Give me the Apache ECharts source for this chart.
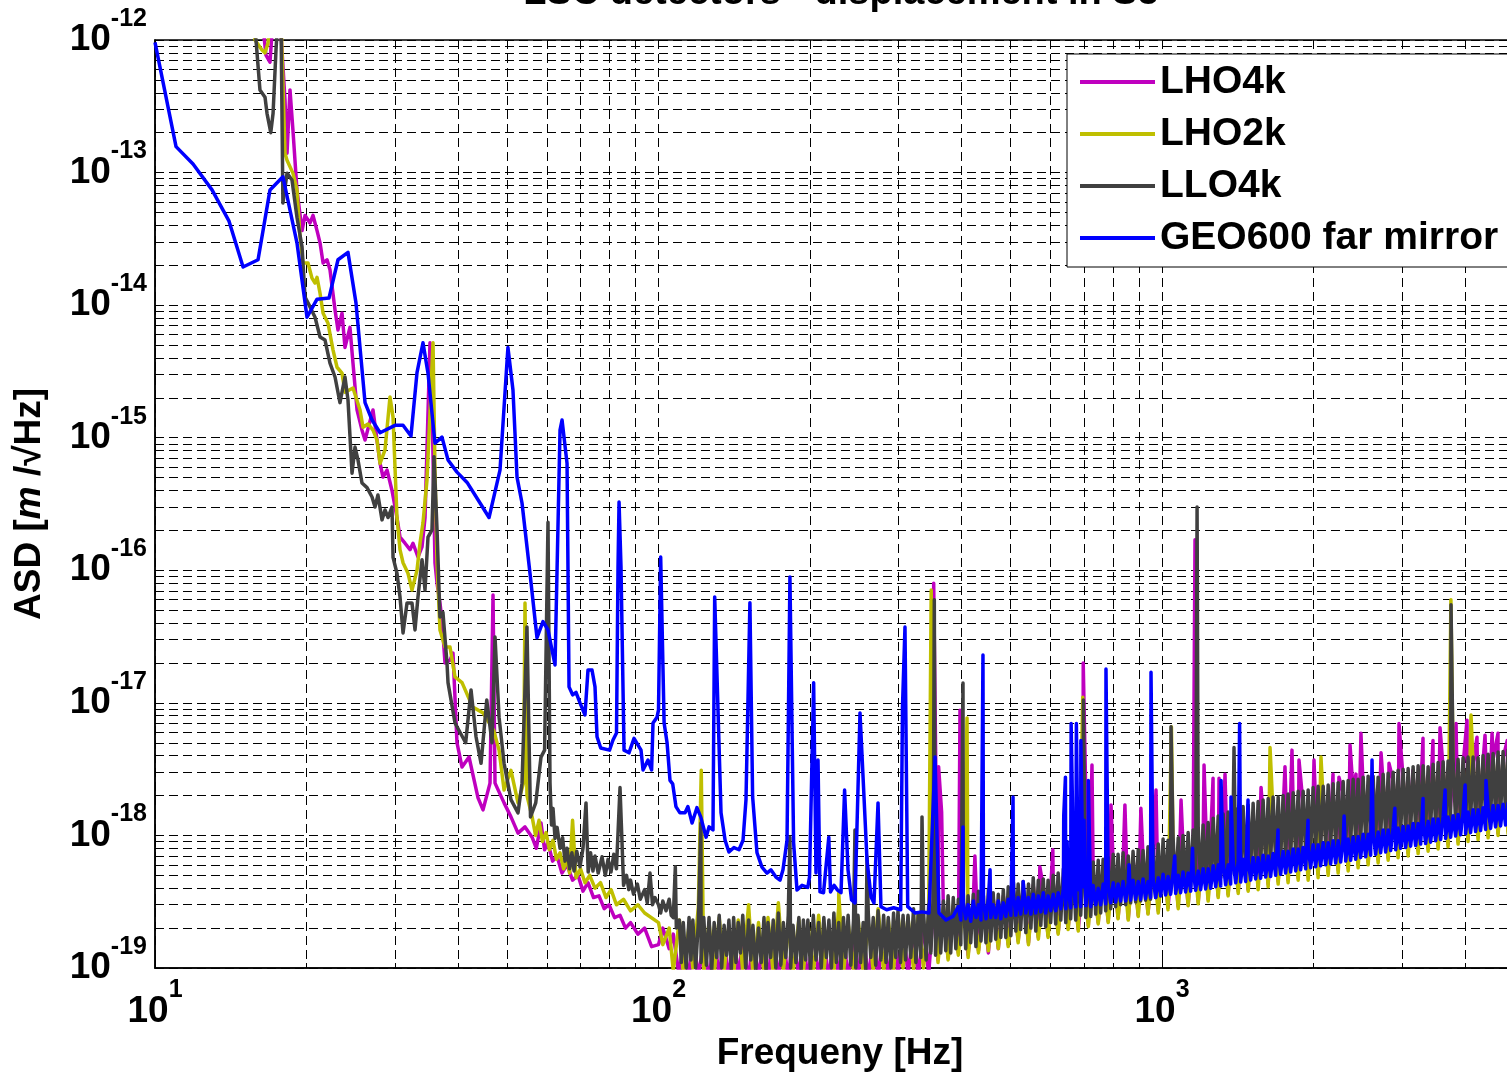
<!DOCTYPE html>
<html>
<head>
<meta charset="utf-8">
<title>LSC detectors - displacement in S5</title>
<script src="https://cdn.jsdelivr.net/npm/echarts/dist/echarts.min.js"></script>
<style>
  html, body { margin: 0; padding: 0; background: #fff; }
  #chart { width: 1507px; height: 1075px; }
</style>
</head>
<body>
<div id="chart"></div>
<script>
// series names, same order as the legend
const seriesNames = ['LHO4k', 'LHO2k', 'LLO4k', 'GEO600 far mirror'];

// frequency grid of the noise floor [Hz]; LHO traces use every second entry
const floorHz = [
  100, 101, 102, 103.5, 105, 106, 107, 108.5, 110, 111, 112, 113.5, 115, 116, 117, 118.5, 120, 121.5, 123, 124.5,
  126, 127.5, 129, 130.5, 132, 133.5, 135, 136.5, 138, 139.5, 141, 142.5, 144, 145.5, 147, 149, 151, 152.5, 154, 156,
  158, 160, 162, 163.5, 165, 167, 169, 171, 173, 175, 177, 179, 181, 183, 185, 187.5, 190, 192, 194, 196,
  198, 200.5, 203, 205.5, 208, 210.5, 213, 215.5, 218, 220.5, 223, 225.5, 228, 230.5, 233, 235.5, 238, 241, 244, 246.5,
  249, 252, 255, 258, 261, 264, 267, 270, 273, 276.5, 280, 283, 286, 289.5, 293, 296, 299, 302.5, 306, 309.5,
  313, 317, 321, 324.5, 328, 332, 336, 340, 344, 347.5, 351, 355, 359, 363.5, 368, 372, 376, 380.5, 385, 389.5,
  394, 398.5, 403, 407.5, 412, 417, 422, 427, 432, 437, 442, 447, 452, 457, 462, 467.5, 473, 478.5, 484, 489.5,
  495, 501, 507, 512.5, 518, 524, 530, 536.5, 543, 549, 555, 561.5, 568, 574.5, 581, 587.5, 594, 601, 608, 615,
  622, 629.5, 637, 644, 651, 658.5, 666, 674, 682, 689.5, 697, 705.5, 714, 722, 730, 738.5, 747, 755.5, 764, 773,
  782, 791, 800, 809, 818, 827.5, 837, 847, 857, 866.5, 876, 886.5, 897, 907, 917, 927.5, 938, 949, 960, 971.5,
  983, 994, 1005, 1016.5, 1028, 1040, 1052, 1064.5, 1077, 1089, 1101, 1114, 1127, 1140, 1153, 1166.5, 1180, 1193.5, 1207, 1221,
  1235, 1249.5, 1264, 1278.5, 1293, 1308, 1323, 1338, 1353, 1369, 1385, 1401, 1417, 1433, 1449, 1466, 1483, 1500, 1517, 1534.5,
  1552, 1570, 1588, 1606.5, 1625, 1643.5, 1662, 1681.5, 1701, 1720.5, 1740, 1760, 1780, 1801, 1822, 1843, 1864, 1885.5, 1907, 1929,
  1951, 1973.5, 1996, 2019, 2042, 2066, 2090, 2114, 2138, 2162.5, 2187, 2212.5, 2238, 2264, 2290, 2316.5, 2343, 2370, 2397, 2424.5,
  2452, 2480.5, 2509, 2538, 2567, 2596.5, 2626, 2656.5, 2687, 2718, 2749, 2781, 2813, 2845.5, 2878, 2911, 2944, 2978, 3012, 3047,
  3082, 3117.5, 3153, 3189.5, 3226, 3263.5, 3301, 3339, 3377, 3416, 3455, 3495, 3535, 3576, 3617, 3658.5, 3700, 3743, 3786, 3829.5,
  3873, 3918, 3963, 4008.5, 4054, 4101, 4148, 4196, 4244, 4293, 4342, 4392.5, 4443, 4494, 4545, 4597.5, 4650, 4704, 4758, 4813,
  4868, 4924, 4980
];
// noise floor values are given in units of 1e-19 m/sqrt(Hz)
const FLOOR_UNIT = 1e-19;

// ---- LHO4k (magenta) ----
const lho4kLowHz = [
  16.31, 16.61, 16.92, 17.16, 17.71, 18.12, 18.29, 18.54, 18.79, 19.14,
  19.59, 19.86, 20.32, 20.6, 20.98, 21.27, 21.57, 21.96, 22.26, 22.78,
  23.09, 23.52, 23.84, 24.39, 24.73, 25.19, 25.77, 26.13, 27.1, 27.6,
  27.99, 28.37, 28.9, 29.56, 30.24, 30.66, 31.37, 32.1, 32.54, 33.29,
  33.91, 34.38, 34.85, 35.17, 35.49, 35.98, 36.32, 36.81, 37.15, 37.67,
  38.54, 39.07, 39.79, 40.72, 42.05, 43.81, 44.82, 46.28, 46.92, 47.35,
  49.35, 50.93, 52.6, 54.31,
  56.1, 57.2, 58.43, 59.4, 60.33, 61.6, 62.87, 64.3, 65.82, 67.5,
  69.2, 70.8, 72.44, 74.3, 76.18, 78.0, 79.75, 81.8, 83.86, 86.0,
  88.0, 91.0, 93.85, 96.9
];
const lho4kLowAsd = [
  1.5e-12, 7.7e-13, 6.8e-13, 1.5e-12, 1.5e-12, 3.53e-13, 1.4e-13, 4.2e-13, 2.1e-13, 7.4e-14,
  3.65e-14, 4.75e-14, 4.17e-14, 4.75e-14, 3.65e-14, 2.95e-14, 2.08e-14, 2.2e-14, 1.85e-14, 9.2e-15,
  6.5e-15, 8.7e-15, 4.8e-15, 6.8e-15, 3.65e-15, 1.62e-15, 1.14e-15, 9.6e-16, 1.62e-15, 9.6e-16,
  6.4e-16, 5.05e-16, 5.7e-16, 4.0e-16, 2.5e-16, 1.78e-16, 1.6e-16, 1.43e-16, 1.6e-16, 1.26e-16,
  1.5e-16, 2.5e-16, 1.54e-15, 5.2e-15, 1.93e-15, 1.14e-16, 8.0e-17, 5.67e-17, 4.2e-17, 2.0e-17,
  2.1e-17, 2.37e-17, 5.0e-18, 3.28e-18, 3.9e-18, 1.92e-18, 1.56e-18, 2.48e-18, 6.5e-17, 2.48e-18,
  1.76e-18, 1.38e-18, 1.04e-18, 1.16e-18,
  9.7e-19, 8.0e-19, 1.24e-18, 7.8e-19, 8.8e-19, 6.4e-19, 7.0e-19, 5.2e-19, 6.0e-19, 4.6e-19,
  5.0e-19, 3.8e-19, 4.4e-19, 3.4e-19, 3.5e-19, 2.8e-19, 3.0e-19, 2.4e-19, 2.5e-19, 2.0e-19,
  2.2e-19, 1.8e-19, 2.0e-19, 1.45e-19
];
const lho4kFloor = [
  1.5, 2.0, 1.4, 1.8, 0.85, 1.7, 0.8, 1.9, 0.85, 1.6,
  0.8, 1.8, 0.85, 1.7, 0.8, 1.9, 0.85, 1.6, 0.8, 1.8,
  0.85, 1.7, 0.8, 1.9, 0.82, 1.75, 0.8, 1.85, 0.85, 1.7,
  0.8, 1.9, 0.85, 1.7, 0.8, 1.85, 0.82, 1.9, 0.8, 1.75,
  0.85, 1.9, 0.8, 1.8, 0.85, 2.0, 0.82, 1.85, 0.88, 2.0,
  0.9, 1.9, 0.85, 2.1, 0.9, 2.5, 1.15, 2.7, 1.2, 2.9,
  1.3, 3.1, 1.25, 3.3, 1.35, 3.0, 1.3, 3.4, 1.4, 3.5,
  1.5, 3.8, 1.6, 4.0, 1.55, 4.2, 1.7, 4.1, 1.75, 4.4,
  1.85, 4.8, 2.0, 5.0, 1.95, 5.3, 2.1, 5.2, 2.2, 5.6,
  2.25, 6.0, 2.4, 6.4, 2.35, 6.6, 2.5, 6.8, 2.6, 7.1,
  2.7, 7.6, 2.85, 8.0, 2.9, 8.4, 3.0, 8.8, 3.15, 9.2,
  3.3, 10, 3.5, 11, 3.6, 11.5, 3.8, 12.5, 3.9, 13,
  4.1, 14, 4.3, 15, 4.5, 15.5, 4.6, 16.5, 4.8, 17,
  4.9, 18, 5.1, 19, 5.3, 20, 5.5, 21, 5.7, 21.5,
  6.0, 23, 6.3, 24, 6.6, 25, 6.8, 26, 7.1, 27,
  7.4, 28.5, 7.7, 29.5, 8.0, 30.5, 8.3, 32, 8.6, 33,
  9.0, 34, 9.4, 35, 9.8, 36, 10, 37.5, 10.4, 38.5,
  10.8, 40
];
const lho4kPeakHz = [
  352, 360, 365, 397, 425, 572, 607, 697.5, 726, 792,
  844, 908, 973, 1091, 1163, 1212, 1263, 1298, 1334, 1573,
  1755, 1812, 1871, 2004, 2186, 2246, 2363, 2428, 2484, 2723,
  2824, 2956, 3151, 3299, 3453, 3566, 3837, 4034, 4223, 4381,
  4524, 4649, 4850
];
const lho4kPeakAsd = [
  8.0e-17, 3.3e-18, 1.5e-18, 8.8e-18, 7.0e-19, 5.8e-19, 7.8e-19, 2.0e-17, 3.4e-18, 1.7e-18,
  1.7e-18, 1.6e-18, 2.2e-18, 1.85e-18, 1.7e-16, 3.4e-18, 2.7e-18, 2.7e-18, 2.9e-18, 2.3e-18,
  3.3e-18, 4.4e-18, 3.7e-18, 3.7e-18, 2.9e-18, 2.75e-18, 4.8e-18, 2.9e-18, 5.9e-18, 4.2e-18,
  3.5e-18, 7.0e-18, 3.1e-18, 5.4e-18, 5.2e-18, 6.5e-18, 7.0e-18, 7.4e-18, 5.5e-18, 5.7e-18,
  5.9e-18, 5.9e-18, 5.2e-18
];

// ---- LHO2k (olive) ----
const lho2kLowHz = [
  15.58, 15.8, 16.31, 16.54, 16.77, 16.92, 17.79, 18.12, 18.29, 18.79,
  19.14, 19.41, 19.67, 20.13, 20.5, 20.79, 20.98, 21.27, 21.57, 22.06,
  22.57, 22.99, 23.52, 23.84, 24.73, 25.54, 25.89, 26.49, 27.1, 27.6,
  27.99, 28.63, 29.29, 29.7, 30.24, 30.66, 31.09, 31.8, 32.39, 33.14,
  33.6, 34.06, 34.69, 35.17, 35.66, 35.98, 36.32, 36.81, 37.67, 38.54,
  39.43, 40.72, 42.75, 44.82, 47.07, 48.23, 49.35, 50.93, 52.6, 53.94,
  54.31, 54.8,
  56.1, 57.0, 57.9, 58.8, 59.79, 60.7, 61.73, 62.7, 63.74, 64.8,
  65.82, 66.6, 67.5, 68.58, 70.0, 71.45, 73.0, 74.8, 76.7, 78.66,
  80.5, 82.5, 85.2, 88.0, 91.0, 93.85
];
const lho2kLowAsd = [
  1.5e-12, 1.0e-12, 8.4e-13, 8.0e-13, 9.5e-13, 1.5e-12, 1.5e-12, 1.4e-13, 1.24e-13, 9.9e-14,
  7.4e-14, 3.27e-14, 2.08e-14, 2.08e-14, 1.6e-14, 1.47e-14, 1.62e-14, 1.23e-14, 8.7e-15, 7.3e-15,
  4.6e-15, 3.4e-15, 3.07e-15, 2.2e-15, 2.37e-15, 1.62e-15, 1.2e-15, 1.27e-15, 1.14e-15, 9.6e-16,
  6.4e-16, 8.1e-16, 2.03e-15, 1.43e-15, 2.5e-16, 1.43e-16, 1.14e-16, 9.5e-17, 7.1e-17, 1.0e-16,
  1.6e-16, 2.28e-16, 4.8e-16, 1.54e-15, 5.2e-15, 5.7e-16, 1.14e-16, 3.55e-17, 2.64e-17, 2.64e-17,
  1.57e-17, 1.42e-17, 9.3e-18, 8.4e-18, 6.2e-18, 4.4e-18, 2.2e-18, 3.1e-18, 1.76e-18, 2.48e-18,
  5.67e-17, 2.0e-18,
  1.38e-18, 1.0e-18, 1.3e-18, 9.0e-19, 1.05e-18, 7.8e-19, 9.2e-19, 6.6e-19, 7.4e-19, 5.6e-19,
  6.6e-19, 5.2e-19, 1.3e-18, 4.8e-19, 5.6e-19, 4.4e-19, 5.0e-19, 4.0e-19, 4.4e-19, 3.4e-19,
  3.9e-19, 3.0e-19, 3.3e-19, 2.7e-19, 3.0e-19, 2.6e-19
];
const lho2kFloor = [
  2.2, 1.5, 2.0, 0.95, 2.3, 0.9, 2.1, 1.0, 2.9, 0.92,
  2.2, 0.9, 2.4, 0.95, 2.1, 0.88, 2.3, 0.95, 3.0, 0.9,
  2.2, 0.92, 2.4, 0.9, 3.1, 0.95, 2.1, 0.9, 2.3, 0.93,
  2.2, 0.9, 2.5, 0.95, 2.1, 0.92, 2.9, 0.9, 2.2, 0.95,
  2.4, 0.92, 2.2, 0.95, 2.8, 0.93, 2.3, 0.97, 2.5, 1.0,
  2.4, 0.98, 2.6, 1.0, 2.5, 2.6, 1.1, 2.9, 1.15, 3.0,
  1.25, 3.0, 1.2, 3.2, 1.3, 2.9, 1.35, 3.3, 1.4, 3.4,
  1.45, 3.7, 1.55, 3.9, 1.5, 4.1, 1.65, 4.0, 1.7, 4.3,
  1.8, 4.7, 1.95, 4.9, 1.9, 5.2, 2.05, 5.1, 2.15, 5.5,
  2.2, 5.9, 2.35, 6.3, 2.3, 6.5, 2.45, 6.7, 2.55, 7.0,
  2.6, 7.5, 2.75, 7.9, 2.8, 8.3, 2.95, 8.7, 3.05, 9.1,
  3.2, 9.8, 3.4, 10.5, 3.5, 11, 3.65, 12, 3.8, 12.5,
  3.9, 13.5, 4.1, 14.5, 4.3, 15, 4.4, 16, 4.6, 16.5,
  4.6, 17.5, 4.8, 18.5, 5.0, 19.5, 5.2, 20.5, 5.4, 21,
  5.7, 22.5, 6.0, 23.5, 6.2, 24.5, 6.5, 25.5, 6.8, 26.5,
  7.0, 28, 7.3, 29, 7.6, 30, 7.9, 31.5, 8.2, 32.5,
  8.6, 33.5, 9.0, 34.5, 9.3, 35.5, 9.6, 37, 10, 38,
  10.3, 39.5
];
const lho2kPeakHz = [121.6, 228, 348, 356, 410, 696, 1044, 1639, 2069, 3748, 4109];
const lho2kPeakAsd = [3.1e-18, 3.7e-19, 7.1e-17, 1.2e-18, 7.7e-18, 1.1e-17, 6.6e-18, 4.6e-18, 3.9e-18, 6.0e-17, 8.1e-18];

// ---- LLO4k (dark grey) ----
const llo4kLowHz = [
  15.73, 15.87, 16.16, 16.54, 16.69, 16.98, 17.16, 17.39, 17.55, 17.79,
  17.95, 18.29, 18.71, 19.14, 19.59, 19.86, 20.32, 20.79, 21.27, 21.76,
  22.26, 22.78, 23.3, 23.84, 24.17, 24.62, 24.96, 25.3, 25.77, 26.37,
  26.98, 27.35, 27.72, 28.24, 28.63, 29.03, 29.56, 29.7, 30.24, 30.66,
  31.09, 31.66, 32.39, 32.84, 33.29, 33.91, 34.38, 34.85, 35.49, 35.82,
  36.32, 36.81, 37.32, 38.01, 38.19, 39.43, 41.4, 42.43, 43.41, 44.42,
  45.59, 46.7, 47.35, 48.23, 49.35, 50.93, 52.6, 53.57, 54.8, 55.69,
  57.04, 58.43, 59.4, 60.33,
  60.89, 61.3, 61.73, 62.3, 62.9, 63.74, 64.5, 65.2, 65.82, 66.6,
  67.3, 67.95, 68.8, 69.84, 70.8, 71.78, 72.5, 73.3, 74.1, 74.8,
  75.9, 77.24, 78.4, 79.4, 80.48, 81.5, 82.5, 83.86, 85.24, 86.4,
  87.3, 88.0, 89.2, 90.8, 92.0, 93.85, 95.0, 96.19, 97.3, 98.4
];
const llo4kLowAsd = [
  1.5e-12, 1.0e-12, 4.2e-13, 3.7e-13, 2.8e-13, 2.0e-13, 2.8e-13, 8.4e-13, 1.5e-12, 1.5e-12,
  5.9e-14, 9.9e-14, 8.8e-14, 4.6e-14, 2.75e-14, 1.15e-14, 9.7e-15, 8.1e-15, 5.75e-15, 5.45e-15,
  3.65e-15, 2.87e-15, 1.84e-15, 2.87e-15, 1.93e-15, 5.4e-16, 8.5e-16, 6.8e-16, 4.55e-16, 4.2e-16,
  3.57e-16, 3.0e-16, 3.7e-16, 2.4e-16, 2.85e-16, 2.5e-16, 3.0e-16, 1.25e-16, 9.5e-17, 6.3e-17,
  3.37e-17, 5.67e-17, 5.67e-17, 3.55e-17, 6.3e-17, 1.2e-16, 7.1e-17, 1.78e-16, 2.02e-16, 7.2e-16,
  2.02e-16, 4.45e-17, 4.8e-17, 2.0e-17, 1.42e-17, 7.05e-18, 5.0e-18, 1.25e-17, 5.55e-18, 3.5e-18,
  1.05e-17, 5.0e-18, 3.14e-17, 7.8e-18, 3.5e-18, 1.86e-18, 1.48e-18, 2.48e-18, 3.73e-17, 1.38e-18,
  1.76e-18, 3.9e-18, 4.4e-18, 2.3e-16,
  2.48e-18, 1.2e-18, 1.6e-18, 9.5e-19, 1.15e-18, 8.0e-19, 9.6e-19, 6.4e-19, 8.0e-19, 5.6e-19,
  7.4e-19, 5.4e-19, 7.6e-19, 5.8e-19, 8.0e-19, 1.76e-18, 5.3e-19, 7.4e-19, 5.4e-19, 7.0e-19,
  5.2e-19, 6.9e-19, 5.0e-19, 6.6e-19, 5.3e-19, 7.2e-19, 5.6e-19, 2.3e-18, 4.2e-19, 5.0e-19,
  3.9e-19, 4.6e-19, 3.6e-19, 4.3e-19, 3.3e-19, 3.9e-19, 3.1e-19, 5.2e-19, 3.0e-19, 3.4e-19
];
const llo4kFloor = [
  3.0, 2.6, 3.2, 2.7, 3.3, 2.5, 2.4, 2.0, 2.3, 1.1, 2.2, 1.0, 2.4, 1.15, 2.3, 1.0, 2.2, 1.1, 2.4, 1.05,
  2.4, 0.95, 2.2, 1.2, 2.5, 1.0, 2.1, 1.25, 2.3, 0.97, 2.4, 1.1, 2.2, 1.3, 2.5, 1.0, 2.3, 1.15, 2.1, 0.96,
  2.0, 1.1, 2.4, 0.95, 2.2, 1.2, 2.3, 1.0, 2.6, 1.05, 2.2, 1.2, 2.5, 1.0, 2.1, 1.1, 2.4, 0.97, 2.3, 1.15,
  2.3, 0.95, 2.5, 1.15, 2.2, 1.0, 2.4, 1.2, 2.3, 1.0, 2.6, 1.1, 2.2, 0.98, 2.4, 1.2, 2.5, 1.05, 2.3, 1.0,
  2.5, 1.1, 2.2, 0.98, 2.6, 1.2, 2.4, 1.05, 2.7, 1.15, 2.5, 1.1, 2.4, 1.0, 2.6, 1.2, 2.7, 1.1, 2.5, 1.15,
  2.5, 1.2, 2.8, 1.1, 2.6, 1.2, 2.7, 1.15, 3.0, 1.3, 3.3, 1.25, 3.4, 1.3, 3.2, 1.35, 3.5, 1.3, 3.4, 1.4,
  3.3, 1.5, 3.7, 1.4, 3.5, 1.55, 3.6, 1.45, 3.8, 1.6, 3.5, 1.55, 3.9, 1.6, 3.7, 1.65, 3.6, 1.7, 3.9, 1.7,
  4.1, 1.75, 4.4, 1.9, 4.3, 1.95, 4.5, 1.85, 4.3, 2.0, 4.8, 1.9, 4.6, 2.1, 4.7, 2.05, 4.6, 2.2, 5.0, 2.15,
  5.2, 2.3, 5.6, 2.2, 5.5, 2.35, 5.9, 2.3, 5.9, 2.5, 6.2, 2.4, 6.2, 2.45, 6.3, 2.55, 6.5, 2.6, 6.6, 2.7,
  6.8, 2.8, 7.2, 2.9, 7.2, 3.0, 7.4, 3.0, 7.0, 3.1, 7.6, 3.15, 7.8, 3.2, 7.7, 3.25, 8.2, 3.3, 8.4, 3.4,
  8.6, 3.5, 9.4, 3.6, 9.2, 3.7, 9.6, 3.8, 9.6, 3.9, 10, 4.0, 10.5, 4.1, 11, 4.2, 11.5, 4.3, 12, 4.4,
  12.5, 4.6, 13.5, 4.7, 14, 4.8, 14.5, 5.0, 15, 5.1, 15.5, 5.3, 16, 5.4, 16.5, 5.5, 17, 5.7, 17.5, 5.8,
  18, 6.0, 18.5, 6.2, 19, 6.4, 19.5, 6.5, 19.5, 6.7, 20, 6.8, 20.5, 7.0, 21, 7.1, 21.5, 7.3, 21.5, 7.4,
  22, 7.6, 23, 7.7, 23.5, 7.9, 23.5, 8.1, 24, 8.2, 24.5, 8.4, 25, 8.5, 25.5, 8.6, 26, 8.8, 26.5, 8.9,
  26.5, 9.1, 27.5, 9.2, 28, 9.4, 28, 9.6, 27.5, 9.7, 29, 9.8, 29.5, 10, 30, 10.2, 31, 10.4, 31.5, 10.5,
  32, 10.7, 33, 10.9, 33.5, 11, 33.5, 11.2, 33, 11.4, 34.5, 11.6, 35.5, 11.8, 36, 12, 36.5, 12.2, 37, 12.4,
  37.5, 12.6, 38.5, 12.8, 39, 13, 39, 13.2, 38.5, 13.4, 40, 13.6, 41, 13.8, 41.5, 14, 42.5, 14.2, 43, 14.4,
  44, 14.6, 45
];
const llo4kPeakHz = [108, 121.4, 182.4, 245.6, 259.5, 333.7, 353, 402.5, 698, 1042, 1174, 1390, 3750];
const llo4kPeakAsd = [5.8e-19, 1.24e-18, 9.7e-19, 1.1e-18, 6.9e-19, 1.38e-18, 6.0e-17, 1.41e-17, 1.05e-17, 6.6e-18, 3.0e-16, 4.6e-18, 5.5e-17];

// ---- GEO600 far mirror (blue) ----
const geoLowHz = [
  10, 11.01, 11.9, 12.98, 14.03, 14.96, 16.02, 16.92, 17.95, 19.14,
  20.04, 20.98, 22.16, 23.09, 24.17, 25.07, 26.13, 26.98, 27.99, 29.97,
  31.09, 32.24, 33.14, 34.06, 34.85, 35.98, 37.15, 38.19, 39.79, 41.67,
  44.21, 46.07, 48.44, 50.23, 51.4, 52.36, 53.57, 55.56, 57.37, 58.96,
  60.33, 62.3, 63.74, 64.33, 65.82, 66.42, 67.52, 68.58, 69.84, 71.45,
  72.44, 73.78, 74.8, 75.49, 76.78, 79.93, 81.22, 82.53, 83.1, 83.49,
  84.24, 85.42, 87.39, 89.41, 92.32, 93.17, 95.31, 96.9, 97.52, 99.32,
  100.0, 101.0, 102.6, 104.0, 105.4, 106.7, 108.3, 110.3, 112.9, 114.4,
  116.6, 119.2, 121.3, 124.3, 126.0, 128.3, 129.3, 130.4, 133.1, 135.6,
  138.0, 141.2, 144.5, 147.2, 149.2, 151.9, 153.8, 156.9, 160.5, 164.2,
  167.2, 171.1, 174.3, 176.7, 180.0, 182.4, 183.9, 185.5, 188.4, 192.8,
  197.9, 199.5, 203.3, 205.5, 207.4, 209.3, 212.7, 217.9, 219.6, 223.2,
  226.8, 230.4, 234.2, 237.9, 241.8, 245.6, 251.3, 259.5, 264.3, 267.9,
  272.9, 276.6, 283.9, 293.1, 302.7, 305.2, 308.7, 312.6, 323.2, 333.7,
  344.5, 354.2, 360.7, 372.4, 384.6
];
const geoLowAsd = [
  9.6e-13, 1.57e-13, 1.16e-13, 7.4e-14, 4.3e-14, 1.94e-14, 2.2e-14, 7.4e-14, 9.3e-14, 2.95e-14,
  8.1e-15, 1.11e-14, 1.13e-14, 2.2e-14, 2.5e-14, 1.04e-14, 1.84e-15, 1.36e-15, 1.09e-15, 1.24e-15,
  1.24e-15, 1.03e-15, 3.1e-15, 5.2e-15, 3.07e-15, 9.1e-16, 1.01e-15, 6.8e-16, 5.5e-16, 4.6e-16,
  3.22e-16, 2.5e-16, 5.7e-16, 4.8e-15, 2.29e-15, 5.05e-16, 3.22e-16, 9.5e-17, 3.1e-17, 4.1e-17,
  3.55e-17, 1.93e-17, 1.14e-15, 1.36e-15, 6.4e-16, 1.32e-17, 1.15e-17, 1.2e-17, 1.0e-17, 8.1e-18,
  1.77e-17, 1.77e-17, 1.32e-17, 5.55e-18, 4.57e-18, 4.4e-18, 5.25e-18, 5.93e-18, 1.06e-16, 3.27e-16,
  1.06e-16, 4.4e-18, 4.2e-18, 5.4e-18, 4.4e-18, 3.12e-18, 3.7e-18, 3.12e-18, 7.05e-18, 7.8e-18,
  8.8e-18, 1.26e-16, 7.05e-18, 5.0e-18, 2.6e-18, 2.45e-18, 1.65e-18, 1.48e-18, 1.48e-18, 1.65e-18,
  1.24e-18, 1.62e-18, 1.38e-18, 9.7e-19, 1.16e-18, 1.1e-18, 6.3e-17, 6.3e-17, 1.48e-18, 9.2e-19,
  7.5e-19, 8.1e-19, 7.8e-19, 9.2e-19, 1.86e-18, 5.7e-17, 1.95e-18, 7.4e-19, 5.77e-19, 5.2e-19,
  5.5e-19, 4.85e-19, 4.6e-19, 5.5e-19, 9.2e-19, 8.9e-17, 8.9e-17, 8.8e-19, 3.87e-19, 4.2e-19,
  4.05e-19, 4.85e-19, 1.42e-17, 5.2e-19, 3.7e-18, 3.75e-19, 3.7e-19, 9.7e-19, 3.75e-19, 4.2e-19,
  3.87e-19, 3.7e-19, 2.2e-18, 5.5e-19, 3.26e-19, 3.1e-19, 8.4e-18, 6.5e-19, 3.43e-19, 3.1e-19,
  1.76e-18, 2.9e-19, 2.75e-19, 2.85e-19, 2.75e-19, 9.3e-18, 3.73e-17, 2.9e-19, 2.6e-19, 2.65e-19,
  2.6e-19, 3.9e-18, 2.6e-19, 2.3e-19, 2.45e-19
];
// floor from 394 Hz upward (tail of floorHz)
const geoFloor = [
  2.9, 2.3, 3.1, 2.35, 3.0, 2.25, 3.2, 2.4, 3.0, 2.3, 3.1, 2.35, 3.3, 2.4, 3.0, 2.4, 3.2, 2.35, 3.1, 2.45,
  3.3, 2.5, 3.5, 2.5, 3.4, 2.55, 3.6, 2.6, 3.4, 2.55, 3.6, 2.6, 3.5, 2.65, 3.7, 2.6, 3.5, 2.7, 3.6, 2.7,
  3.7, 2.8, 4.0, 2.8, 3.8, 2.85, 4.1, 2.9, 3.9, 2.9, 4.1, 2.95, 4.0, 2.9, 4.2, 3.0, 4.0, 3.0, 4.3, 3.05,
  4.2, 3.1, 4.4, 3.15, 4.3, 3.2, 4.5, 3.2, 4.4, 3.25, 4.6, 3.3, 4.5, 3.3, 4.7, 3.35, 4.5, 3.4, 4.7, 3.4,
  4.8, 3.5, 5.1, 3.55, 4.9, 3.6, 5.2, 3.65, 5.0, 3.7, 5.3, 3.75, 5.2, 3.8, 5.5, 3.85, 5.4, 3.9, 5.6, 3.95,
  5.6, 4.0, 5.9, 4.1, 6.0, 4.15, 6.2, 4.25, 6.0, 4.3, 6.3, 4.4, 6.4, 4.45, 6.6, 4.5, 6.5, 4.6, 6.8, 4.7,
  6.8, 4.75, 7.1, 4.85, 7.0, 4.9, 7.3, 5.0, 7.3, 5.1, 7.6, 5.2, 7.6, 5.3, 7.9, 5.4, 7.9, 5.5, 8.1, 5.6,
  8.2, 5.7, 8.5, 5.8, 8.5, 5.9, 8.8, 6.0, 8.8, 6.1, 9.1, 6.2, 9.1, 6.3, 9.4, 6.4, 9.4, 6.5, 9.7, 6.6,
  9.8, 6.8, 10.2, 6.9, 10.2, 7.1, 10.6, 7.2, 10.6, 7.4, 11, 7.5, 11, 7.7, 11.4, 7.8, 11.4, 8.0, 11.7, 8.1,
  11.8, 8.3, 12.3, 8.4, 12.3, 8.6, 12.8, 8.7, 12.8, 8.9, 13.3, 9.1, 13.3, 9.3, 13.8, 9.5, 13.8, 9.7, 14.1, 9.9,
  14.4, 10.1, 15, 10.3, 15, 10.5, 15.6, 10.7, 15.6, 10.9, 16.2, 11.1, 16.2, 11.3, 16.8, 11.6, 16.8, 11.8, 17.2, 12,
  17.5, 12.2, 17.8
];
const geoPeakHz = [
  402.5, 441, 455.5, 506, 530, 638, 643, 648, 660, 665,
  676, 683, 690, 700, 714, 774, 860, 951, 1060, 1150,
  1310, 1371, 1426, 1482, 1700, 1950, 2300, 2613, 2900, 3300,
  3650, 4000, 4400
];
const geoPeakAsd = [
  1.16e-18, 2.3e-17, 5.5e-19, 1.95e-18, 4.5e-19, 1.4e-18, 2.75e-18, 9.0e-19, 7.0e-18, 1.2e-18,
  7.0e-18, 1.8e-18, 5.2e-18, 1.3e-18, 2.6e-18, 1.8e-17, 6.0e-19, 1.7e-17, 7.0e-19, 8.0e-19,
  2.6e-18, 1.95e-18, 7.0e-18, 1.85e-18, 1.1e-18, 1.3e-18, 1.4e-18, 3.7e-18, 1.6e-18, 1.9e-18,
  2.2e-18, 2.4e-18, 2.6e-18
];

const colors = ['#BF00BF', '#BFBF00', '#404040', '#0000FF'];
const FONT = '"Liberation Sans", Arial, Helvetica, sans-serif';
// y axis is plotted in units of 1e-19 m/sqrt(Hz) (log scale rounds tiny values); labels show the true exponent
const Y_UNIT = 1e-19;
const Y_EXP = -19;

const coarseHz = floorHz.filter((f, i) => i % 2 === 0);

// merge low-frequency trace, floor and narrow lines into one trace sorted by frequency
function buildTrace(lowHz, lowAsd, grid, floor, peakHz, peakAsd) {
  const pts = [];
  const n = Math.min(lowHz.length, lowAsd.length);
  for (let i = 0; i < n; i++) pts.push([lowHz[i], lowAsd[i]]);
  const off = grid.length - floor.length;
  floor.forEach((v, i) => pts.push([grid[off + i], v * FLOOR_UNIT]));
  const m = Math.min(peakHz.length, peakAsd.length);
  for (let i = 0; i < m; i++) pts.push([peakHz[i], peakAsd[i]]);
  pts.sort((a, b) => a[0] - b[0]);
  return pts.map(p => [p[0], p[1] / Y_UNIT]);
}

const traces = [
  buildTrace(lho4kLowHz, lho4kLowAsd, coarseHz, lho4kFloor, lho4kPeakHz, lho4kPeakAsd),
  buildTrace(lho2kLowHz, lho2kLowAsd, coarseHz, lho2kFloor, lho2kPeakHz, lho2kPeakAsd),
  buildTrace(llo4kLowHz, llo4kLowAsd, floorHz, llo4kFloor, llo4kPeakHz, llo4kPeakAsd),
  buildTrace(geoLowHz, geoLowAsd, floorHz, geoFloor, geoPeakHz, geoPeakAsd)
];

// 10^n labels with superscript
const labelRich = {
  b: { fontSize: 37, fontWeight: 'bold', fontFamily: FONT, color: '#000', lineHeight: 37 },
  s: { fontSize: 25, fontWeight: 'bold', fontFamily: FONT, color: '#000', lineHeight: 25, padding: [0, 0, 42, 0] }
};
function decadeLabel(v, shift) {
  const e = Math.log10(v);
  const r = Math.round(e);
  if (Math.abs(e - r) > 1e-6) return '';
  return '{b|10}{s|' + (r + shift) + '}';
}

const gridDash = { color: '#000', width: 1, type: [9, 5] };

const chart = echarts.init(document.getElementById('chart'));
const option = {
  animation: false,
  backgroundColor: '#fff',
  title: [
    {
      text: 'LSC detectors - displacement in S5',
      left: 836, top: -30, textAlign: 'center',
      textStyle: { fontSize: 38, fontWeight: 'bold', fontFamily: FONT, color: '#000' }
    },
    {
      text: 'Frequeny [Hz]',
      left: 835, top: 1030, textAlign: 'center',
      textStyle: { fontSize: 37, fontWeight: 'bold', fontFamily: FONT, color: '#000' }
    }
  ],
  // plot area runs to 10^4 Hz; the page shows it up to ~4.9 kHz
  grid: {
    left: 155, top: 40, width: 1510.5, height: 928,
    containLabel: false, outerBoundsMode: 'none',
    show: true, borderColor: '#000', borderWidth: 1.5
  },
  legend: {
    data: seriesNames,
    orient: 'vertical',
    left: 1067, top: 54,
    icon: 'rect', itemWidth: 75, itemHeight: 4, itemGap: 6,
    padding: [5, 16, 6, 13],
    backgroundColor: '#fff', borderColor: '#000', borderWidth: 1,
    selectedMode: false,
    textStyle: { fontSize: 39, fontWeight: 'bold', fontFamily: FONT, color: '#000', lineHeight: 46 }
  },
  xAxis: {
    type: 'log', logBase: 10, min: 10, max: 10000,
    axisLine: { show: true, lineStyle: { color: '#000', width: 1.5 } },
    axisTick: { show: true, inside: true, length: 9, lineStyle: { color: '#000' } },
    minorTick: { show: true, splitNumber: 9, length: 5, lineStyle: { color: '#000' } },
    splitLine: { show: true, lineStyle: gridDash },
    minorSplitLine: { show: true, lineStyle: gridDash },
    axisLabel: { margin: 25, formatter: v => decadeLabel(v, 0), rich: labelRich }
  },
  yAxis: {
    type: 'log', logBase: 10, min: 1, max: 1e7, splitNumber: 7,
    name: '{n|ASD [}{i|m}{n| /√Hz]}',
    nameLocation: 'middle', nameGap: 105,
    nameTextStyle: {
      rich: {
        n: { fontSize: 37, fontWeight: 'bold', fontFamily: FONT, color: '#000', lineHeight: 40 },
        i: { fontSize: 37, fontWeight: 'bold', fontStyle: 'italic', fontFamily: FONT, color: '#000', lineHeight: 40 }
      }
    },
    axisLine: { show: true, lineStyle: { color: '#000', width: 1.5 } },
    axisTick: { show: true, inside: true, length: 9, lineStyle: { color: '#000' } },
    minorTick: { show: true, splitNumber: 9, length: 5, lineStyle: { color: '#000' } },
    splitLine: { show: true, lineStyle: gridDash },
    minorSplitLine: { show: true, lineStyle: gridDash },
    axisLabel: { margin: 8, formatter: v => decadeLabel(v, Y_EXP), rich: labelRich }
  },
  series: seriesNames.map((name, i) => ({
    name: name,
    type: 'line',
    data: traces[i],
    showSymbol: false,
    symbol: 'none',
    clip: true,
    silent: true,
    lineStyle: { color: colors[i], width: 3.5, join: 'round' },
    itemStyle: { color: colors[i] },
    emphasis: { disabled: true }
  }))
};
chart.setOption(option);
</script>
</body>
</html>
